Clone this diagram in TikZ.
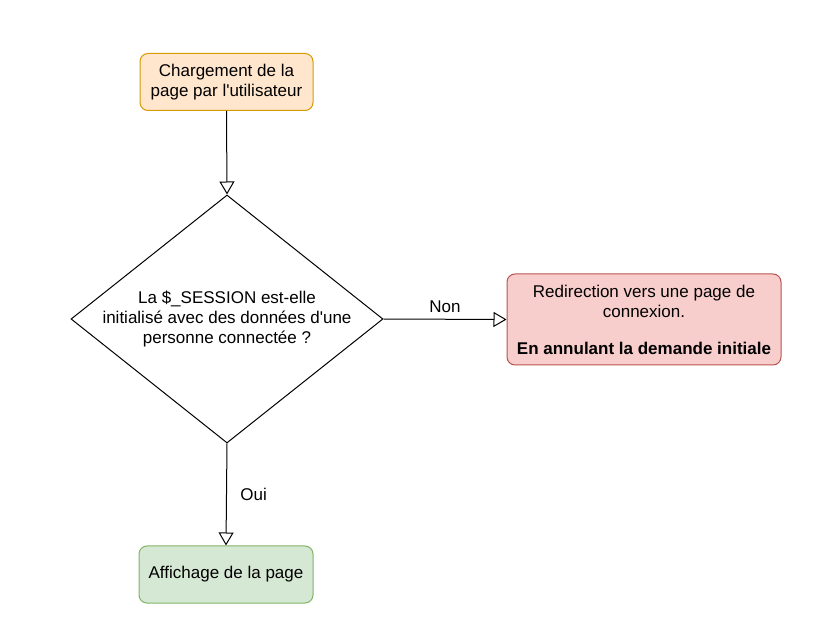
\documentclass[tikz,border=0pt]{standalone}
\usepackage{fontspec}
\setmainfont{Liberation Sans}
\usetikzlibrary{arrows.meta,shapes.geometric,positioning}
\definecolor{StartFill}{HTML}{FFE6CC}
\definecolor{StartLine}{HTML}{D79B00}
\definecolor{StopFill}{HTML}{F8CECC}
\definecolor{StopLine}{HTML}{B85450}
\definecolor{OkFill}{HTML}{D5E8D4}
\definecolor{OkLine}{HTML}{82B366}

\tikzset{
  txt/.style={align=center,font=\fontsize{17}{20}\selectfont},
  box/.style={txt,draw,rounded corners=8pt,line width=1pt,inner sep=0pt},
  flow/.style={draw=black,line width=1pt,-{Triangle[open,length=13pt,width=15pt]}},
}

\begin{document}
\begin{tikzpicture}[x=1pt,y=-1pt]
\useasboundingbox (0,0) rectangle (831,644);

\node[box,fill=StartFill,draw=StartLine,minimum width=173pt,minimum height=57pt]
  (load) at (226.5,82) {Chargement de la\\page par l\textquotesingle utilisateur};

\node[diamond,draw,line width=1pt,aspect=1.258,inner sep=0pt,
  minimum width=312pt,minimum height=248pt] (check) at (227,319) {};
\node[txt] (checktext) at (check) {La \$\_SESSION est-elle\\initialisé avec des données d\textquotesingle une\\personne connectée ?};

\node[box,fill=StopFill,draw=StopLine,minimum width=274pt,minimum height=91pt]
  (redirect) at (644,319.5) {Redirection vers une page de\\connexion.\\[17pt]\textbf{En annulant la demande initiale}};

\node[box,fill=OkFill,draw=OkLine,minimum width=174pt,minimum height=57pt]
  (show) at (226,574.5) {Affichage de la page};

\draw[flow] (load.south) -- (check.north);
\draw[flow] (check.east) -- (redirect.west)
  node[txt,midway,above=3pt] (non) {Non};
\draw[flow] (check.south) -- (show.north)
  node[txt,pos=0.5,right=10pt] (oui) {Oui};

\end{tikzpicture}
\end{document}
